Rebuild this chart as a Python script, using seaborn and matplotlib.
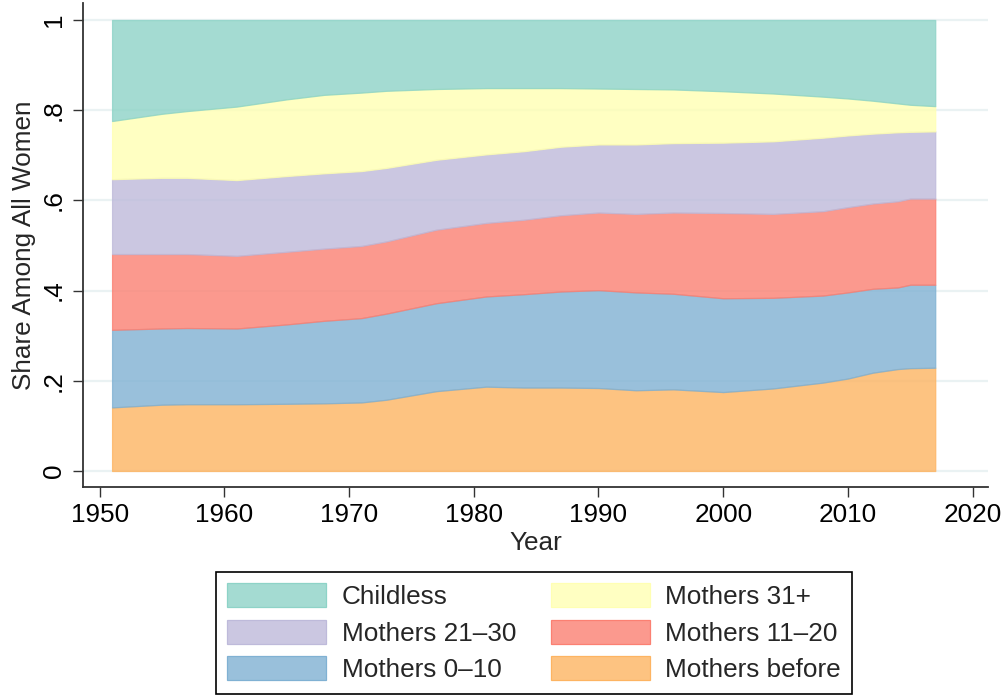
import numpy as np
import matplotlib
matplotlib.use("Agg")
import matplotlib.pyplot as plt
from matplotlib.patches import Patch
import seaborn as sns

# Survey years
years = [1951, 1955, 1957, 1961, 1965, 1968, 1971, 1973, 1977, 1981, 1984, 1987,
         1990, 1993, 1996, 2000, 2004, 2008, 2010, 2012, 2014, 2015, 2017]

# Shares of all women by motherhood status (each row sums to about 1)
mothers_before = [0.141, 0.147, 0.148, 0.148, 0.149, 0.150, 0.152, 0.158, 0.177, 0.187, 0.185, 0.185,
                  0.184, 0.179, 0.181, 0.175, 0.183, 0.196, 0.205, 0.218, 0.226, 0.228, 0.229]
mothers_0_10 = [0.172, 0.169, 0.169, 0.168, 0.176, 0.183, 0.187, 0.191, 0.195, 0.200, 0.207, 0.213,
                0.217, 0.217, 0.212, 0.208, 0.201, 0.193, 0.191, 0.186, 0.181, 0.185, 0.184]
mothers_11_20 = [0.168, 0.165, 0.164, 0.161, 0.161, 0.160, 0.160, 0.160, 0.163, 0.163, 0.165, 0.169,
                 0.172, 0.174, 0.180, 0.189, 0.186, 0.187, 0.189, 0.189, 0.191, 0.191, 0.191]
mothers_21_30 = [0.166, 0.169, 0.169, 0.168, 0.168, 0.167, 0.166, 0.163, 0.155, 0.152, 0.152, 0.152,
                 0.151, 0.154, 0.154, 0.156, 0.161, 0.163, 0.159, 0.155, 0.153, 0.148, 0.149]
mothers_31_plus = [0.129, 0.142, 0.148, 0.163, 0.170, 0.174, 0.174, 0.171, 0.157, 0.147, 0.140, 0.130,
                   0.124, 0.123, 0.119, 0.114, 0.106, 0.091, 0.082, 0.073, 0.064, 0.060, 0.056]
childless = [0.224, 0.208, 0.202, 0.192, 0.176, 0.166, 0.161, 0.157, 0.153, 0.151, 0.151, 0.151,
             0.152, 0.153, 0.154, 0.158, 0.163, 0.170, 0.174, 0.179, 0.185, 0.188, 0.191]

labels = ["Childless", "Mothers 31+", "Mothers 21–30", "Mothers 11–20",
          "Mothers 0–10", "Mothers before"]
series = [childless, mothers_31_plus, mothers_21_30, mothers_11_20,
          mothers_0_10, mothers_before]

x_ticks = [1950, 1960, 1970, 1980, 1990, 2000, 2010, 2020]
y_ticks = [0, 0.2, 0.4, 0.6, 0.8, 1.0]
y_tick_labels = ["0", ".2", ".4", ".6", ".8", "1"]

sns.set_style("white")
plt.rcParams["font.family"] = ["Liberation Sans", "DejaVu Sans"]
FS = 18.8

palette = sns.color_palette("Set3", 6)
colors = dict(zip(labels, palette))

fig = plt.figure(figsize=(10.06, 6.95), dpi=100)
ax = fig.add_axes([83 / 1006, (695 - 487) / 695, (988 - 83) / 1006, (487 - 3) / 695])

# Stack from the bottom: earliest mothers first, childless on top
stack_order = labels[::-1]
stack_vals = series[::-1]
polys = ax.stackplot(years, *[np.asarray(v) for v in stack_vals],
                     colors=[colors[l] for l in stack_order], alpha=0.8, zorder=2)
for poly, lab in zip(polys, stack_order):
    poly.set_edgecolor(colors[lab])
    poly.set_linewidth(0.9)

ax.set_xlim(1948.67, 2021.23)
ax.set_ylim(-0.0355, 1.0377)
ax.set_xticks(x_ticks)
ax.set_yticks(y_ticks)
ax.set_yticklabels(y_tick_labels, rotation=90, va="center")
ax.tick_params(axis="both", direction="out", length=7.5, width=1.0, color="#333333",
               labelsize=FS, labelcolor="black", left=True, bottom=True)
ax.tick_params(axis="x", pad=4)
ax.tick_params(axis="y", pad=5)

ax.grid(axis="y", color="#eaf2f3", linewidth=1.6, zorder=0)
ax.grid(axis="x", visible=False)
ax.set_axisbelow(True)

sns.despine(ax=ax)
for side in ["left", "bottom"]:
    ax.spines[side].set_color("#333333")
    ax.spines[side].set_linewidth(1.3)

ax.set_xlabel("Year", fontsize=FS, labelpad=3)
ax.set_ylabel("Share Among All Women", fontsize=FS, labelpad=4)

# Legend: two columns, filled in column order
legend_order = ["Childless", "Mothers 21–30", "Mothers 0–10",
                "Mothers 31+", "Mothers 11–20", "Mothers before"]
handles = [Patch(facecolor=(*colors[l], 0.8), edgecolor=colors[l], linewidth=0.9)
           for l in legend_order]
leg = fig.legend(handles, legend_order, loc="upper left",
                 bbox_to_anchor=(216 / 1006, 1 - 572 / 695), bbox_transform=fig.transFigure,
                 ncol=2, fontsize=FS, frameon=True, fancybox=False, edgecolor="black",
                 framealpha=1, borderpad=0.44, handlelength=3.78, handleheight=1.02,
                 handletextpad=0.6, columnspacing=1.33, labelspacing=0.41, borderaxespad=0)
leg.get_frame().set_linewidth(1.2)

fig.savefig("out.png", dpi=100)
